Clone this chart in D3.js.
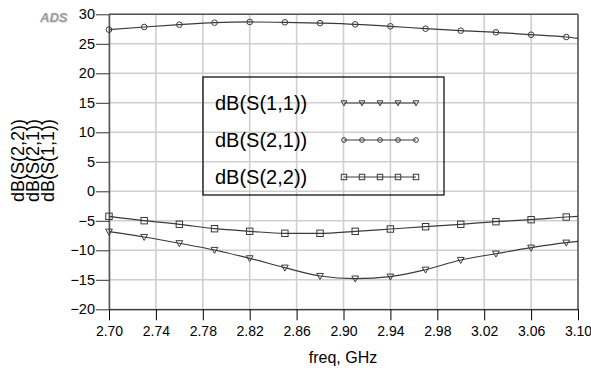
<!DOCTYPE html>
<html><head><meta charset="utf-8">
<script src="https://cdn.jsdelivr.net/npm/d3@7"></script>
<style>html,body{margin:0;padding:0;background:#fff;}svg{display:block;font-family:"Liberation Sans",Arial,sans-serif;}</style>
</head><body>
<svg id="chart" width="591" height="376"></svg>
<script>
const freq = [2.70,2.73,2.76,2.79,2.82,2.85,2.88,2.91,2.94,2.97,3.00,3.03,3.06,3.09,3.10];
const s11 = [-6.85,-7.75,-8.81,-9.95,-11.36,-12.95,-14.36,-14.8,-14.47,-13.29,-11.64,-10.58,-9.56,-8.71,-8.5];
const s21 = [27.4,27.85,28.24,28.58,28.7,28.64,28.5,28.3,27.97,27.56,27.22,26.95,26.54,26.15,25.93];
const s22 = [-4.24,-4.98,-5.59,-6.34,-6.78,-7.12,-7.12,-6.78,-6.39,-6.0,-5.59,-5.15,-4.81,-4.36,-4.24];
const markerShown = [1,1,1,1,1,1,1,1,1,1,1,1,1,1,0];
const xTicks = [2.70,2.74,2.78,2.82,2.86,2.90,2.94,2.98,3.02,3.06,3.10];
const yTicks = [-20,-15,-10,-5,0,5,10,15,20,25,30];
const seriesNames = ["dB(S(1,1))","dB(S(2,1))","dB(S(2,2))"];
const yLabels = ["dB(S(2,2))","dB(S(2,1))","dB(S(1,1))"];

const svg = d3.select("#chart");
const L = 109, R = 578, T = 14.3, B = 309.3;
const x = d3.scaleLinear().domain([2.70,3.10]).range([L,R]);
const y = d3.scaleLinear().domain([-20,30]).range([B,T]);

// grid
svg.append("g").selectAll("line").data(xTicks).join("line")
  .attr("x1",d=>x(d)).attr("x2",d=>x(d)).attr("y1",T).attr("y2",B)
  .attr("stroke","#cfcfcf").attr("stroke-width",1.6);
svg.append("g").selectAll("line").data(yTicks).join("line")
  .attr("x1",L).attr("x2",R).attr("y1",d=>y(d)).attr("y2",d=>y(d))
  .attr("stroke","#cfcfcf").attr("stroke-width",1.6);

// frame
svg.append("line").attr("x1",L).attr("x2",R).attr("y1",T).attr("y2",T).attr("stroke","#555").attr("stroke-width",1.5);
svg.append("line").attr("x1",R).attr("x2",R).attr("y1",T).attr("y2",B).attr("stroke","#777").attr("stroke-width",2);

// axes
const xAxis = d3.axisBottom(x).tickValues(xTicks).tickFormat(d3.format(".2f")).tickSizeOuter(0).tickSizeInner(11).tickPadding(6);
const gx = svg.append("g").attr("transform",`translate(0,${B})`).call(xAxis);
gx.select(".domain").attr("stroke","#000");
gx.selectAll(".tick line").attr("stroke","#000");
gx.selectAll("text").attr("font-size",14).attr("fill","#000").attr("font-family","Liberation Sans, Arial, sans-serif");

const yAxis = d3.axisLeft(y).tickValues(yTicks).tickFormat(d3.format("d")).tickSizeOuter(0).tickSizeInner(13).tickPadding(1);
const gy = svg.append("g").attr("transform",`translate(${L},0)`).call(yAxis);
gy.select(".domain").attr("stroke","#555").attr("stroke-width",1.5);
gy.selectAll(".tick line").attr("stroke","#333");
gy.selectAll("text").attr("font-size",14.5).attr("fill","#000").attr("font-family","Liberation Sans, Arial, sans-serif");

// curves
const col = "#3a3a3a";
const line = d3.line().x(d=>x(d[0])).y(d=>y(d[1])).curve(d3.curveMonotoneX);
const series = [s11,s21,s22];
const shapes = ["tri","circ","sq"];
function drawMarker(g, shape, cx, cy, s){
  if(shape==="circ") g.append("circle").attr("cx",cx).attr("cy",cy).attr("r",2.8*s).attr("fill","none").attr("stroke",col).attr("stroke-width",1);
  else if(shape==="sq") g.append("rect").attr("x",cx-3.2*s).attr("y",cy-3.2*s).attr("width",6.4*s).attr("height",6.4*s).attr("fill","none").attr("stroke",col).attr("stroke-width",1);
  else g.append("path").attr("d",`M${cx-3.4*s},${cy-2.6*s}L${cx+3.4*s},${cy-2.6*s}L${cx},${cy+3.4*s}Z`).attr("fill","none").attr("stroke",col).attr("stroke-width",1);
}
series.forEach((vals,i)=>{
  const pts = freq.map((f,j)=>[f,vals[j]]);
  svg.append("path").datum(pts).attr("d",line).attr("fill","none").attr("stroke",col).attr("stroke-width",1.2);
  const g = svg.append("g");
  pts.forEach((p,j)=>{ if(markerShown[j]) drawMarker(g, shapes[i], x(p[0]), y(p[1]), 1); });
});

// legend
svg.append("rect").attr("x",203).attr("y",77).attr("width",241).attr("height",118).attr("fill","none").attr("stroke","#000").attr("stroke-width",1.2);
const legY = [103,140,177];
seriesNames.forEach((n,i)=>{
  svg.append("text").attr("x",215).attr("y",legY[i]).attr("dominant-baseline","central").attr("font-size",20).attr("fill","#000").text(n);
  svg.append("line").attr("x1",344).attr("x2",416).attr("y1",legY[i]).attr("y2",legY[i]).attr("stroke",col).attr("stroke-width",1);
  const g = svg.append("g");
  d3.range(5).forEach(k=>drawMarker(g, shapes[i], 344+k*18, legY[i], 0.85));
});

// y label (stacked)
const yLx = [18,33,48];
yLabels.forEach((t,i)=>{
  svg.append("text").attr("transform",`translate(${yLx[i]},202) rotate(-90)`).attr("dominant-baseline","central")
    .attr("font-size",18).attr("fill","#000").text(t);
});

// x label
svg.append("text").attr("x",343).attr("y",357).attr("text-anchor","middle").attr("dominant-baseline","central").attr("font-size",16).attr("fill","#000").text("freq, GHz");

// ADS logo
svg.append("text").attr("x",41).attr("y",23).attr("font-size",13).attr("font-weight","bold").attr("font-style","italic").attr("fill","#e2e2e2").text("ADS");
svg.append("text").attr("x",40).attr("y",22).attr("font-size",13).attr("font-weight","bold").attr("font-style","italic").attr("fill","#9a9a9a").text("ADS");
</script>
</body></html>
